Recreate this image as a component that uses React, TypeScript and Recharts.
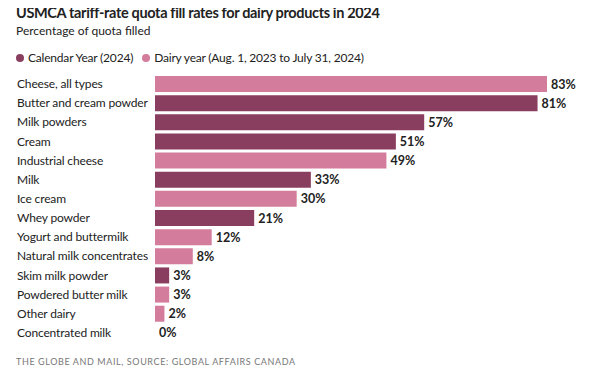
import React from 'react';
import { BarChart, Bar, XAxis, YAxis, Cell, LabelList } from 'recharts';

const PRODUCTS = [
  'Cheese, all types',
  'Butter and cream powder',
  'Milk powders',
  'Cream',
  'Industrial cheese',
  'Milk',
  'Ice cream',
  'Whey powder',
  'Yogurt and buttermilk',
  'Natural milk concentrates',
  'Skim milk powder',
  'Powdered butter milk',
  'Other dairy',
  'Concentrated milk',
];
const FILL_RATES = [83, 81, 57, 51, 49, 33, 30, 21, 12, 8, 3, 3, 2, 0];
// 'cal' = Calendar Year (2024), 'dairy' = Dairy year
const PERIODS = ['dairy', 'cal', 'cal', 'cal', 'dairy', 'cal', 'dairy', 'cal', 'dairy', 'dairy', 'cal', 'dairy', 'dairy', 'dairy'];

const COLORS: Record<string, string> = { cal: '#8a3e5f', dairy: '#d47c9b' };
const FONT = 'Lato, "Noto Sans", sans-serif';

const data = PRODUCTS.map((name, i) => ({ name, value: FILL_RATES[i], period: PERIODS[i] }));

function NameTick(props: any) {
  const { y, payload } = props;
  return (
    <text x={17} y={y} dy={4.5} fontSize={12} letterSpacing={-0.15} fill="#222" fontFamily={FONT} textAnchor="start">
      {payload.value}
    </text>
  );
}

function PctLabel(props: any) {
  const { x, y, width, height, value } = props;
  return (
    <text
      x={Number(x) + Number(width) + 4}
      y={Number(y) + Number(height) / 2}
      dy={4.5}
      fontSize={12.5}
      fontWeight={700}
      fill="#222"
      fontFamily={FONT}
    >
      {`${value}%`}
    </text>
  );
}

export default function App() {
  return (
    <div style={{ position: 'relative', width: 616, height: 383, margin: -8, background: '#fff', fontFamily: FONT }}>
      <div style={{ position: 'absolute', left: 16, top: 4, fontSize: 14.5, fontWeight: 700, letterSpacing: -0.35, color: '#222' }}>
        USMCA tariff-rate quota fill rates for dairy products in 2024
      </div>
      <div style={{ position: 'absolute', left: 16, top: 23, fontSize: 12, color: '#222' }}>
        Percentage of quota filled
      </div>
      <div style={{ position: 'absolute', left: 16, top: 50, fontSize: 12, letterSpacing: -0.2, color: '#222', display: 'flex', alignItems: 'center' }}>
        <span style={{ width: 8, height: 8, borderRadius: 4, background: COLORS.cal, marginRight: 4 }} />
        <span style={{ marginRight: 9 }}>Calendar Year (2024)</span>
        <span style={{ width: 8, height: 8, borderRadius: 4, background: COLORS.dairy, marginRight: 4 }} />
        <span>Dairy year (Aug. 1, 2023 to July 31, 2024)</span>
      </div>
      <div style={{ position: 'absolute', top: 0, left: 0 }}>
        <BarChart
          width={616}
          height={383}
          data={data}
          layout="vertical"
          margin={{ top: 74, right: 69, bottom: 41, left: 0 }}
          barSize={16}
        >
          <XAxis type="number" domain={[0, 83]} hide />
          <YAxis
            type="category"
            dataKey="name"
            width={155}
            axisLine={false}
            tickLine={false}
            tick={<NameTick />}
            interval={0}
          />
          <Bar dataKey="value" isAnimationActive={false} minPointSize={0.01}>
            {data.map((d) => (
              <Cell key={d.name} fill={d.value > 0 ? COLORS[d.period] : 'none'} />
            ))}
            <LabelList dataKey="value" content={<PctLabel />} />
          </Bar>
        </BarChart>
      </div>
      <div style={{ position: 'absolute', left: 16, top: 356, fontSize: 9, letterSpacing: 0.6, color: '#777' }}>
        THE GLOBE AND MAIL, SOURCE: GLOBAL AFFAIRS CANADA
      </div>
    </div>
  );
}
